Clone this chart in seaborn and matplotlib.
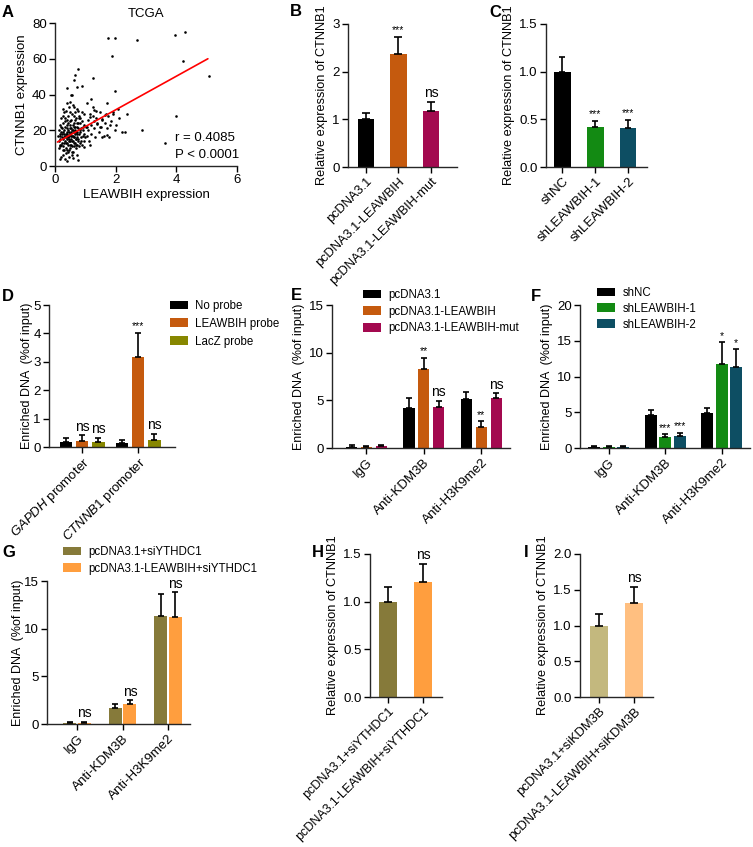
import matplotlib
matplotlib.use("Agg")
import matplotlib.pyplot as plt
import pandas as pd
import seaborn as sns
from matplotlib.patches import Patch
from matplotlib.ticker import FormatStrFormatter

# ---------------- data ----------------
# A: TCGA scatter (LEAWBIH vs CTNNB1)
tcga_x = [
    0.12, 0.15, 0.18, 0.20, 0.22, 0.25, 0.27, 0.30, 0.32, 0.34, 0.36, 0.38, 0.40, 0.42, 0.44, 0.46, 0.48, 0.50,
    0.52, 0.54, 0.56, 0.58, 0.60, 0.62, 0.64, 0.66, 0.68, 0.70, 0.72, 0.75, 0.78, 0.80, 0.83, 0.86, 0.90, 0.93, 0.97,
    0.14, 0.17, 0.19, 0.21, 0.23, 0.26, 0.28, 0.31, 0.33, 0.35, 0.37, 0.39, 0.41, 0.43, 0.45, 0.47, 0.49, 0.51,
    0.53, 0.55, 0.57, 0.59, 0.61, 0.63, 0.65, 0.67, 0.69, 0.71, 0.73, 0.76, 0.79, 0.82, 0.85, 0.88, 0.92, 0.95,
    0.10, 0.13, 0.16, 0.20, 0.24, 0.27, 0.29, 0.31, 0.34, 0.36, 0.38, 0.40, 0.42, 0.44, 0.46, 0.48, 0.50, 0.52,
    0.54, 0.56, 0.58, 0.60, 0.62, 0.64, 0.66, 0.68, 0.70, 0.72, 0.74, 0.77, 0.81, 0.84, 0.87, 0.91, 0.96,
    0.15, 0.18, 0.22, 0.25, 0.28, 0.30, 0.33, 0.35, 0.37, 0.39, 0.41, 0.43, 0.45, 0.47, 0.49, 0.51, 0.53, 0.55,
    0.57, 0.59, 0.61, 0.63, 0.65, 0.67, 0.69, 0.71, 0.74, 0.77, 0.80, 0.84, 0.89, 0.94,
    0.20, 0.32, 0.45, 0.55, 0.40, 0.60, 0.72, 0.25, 0.38, 0.50, 0.62, 0.75, 0.30, 0.55,
    1.02, 1.05, 1.08, 1.10, 1.13, 1.15, 1.18, 1.20, 1.24, 1.27, 1.30, 1.33, 1.36, 1.40, 1.44, 1.48, 1.52, 1.56,
    1.60, 1.64, 1.68, 1.72, 1.78, 1.85, 1.92, 2.00, 2.10, 2.20, 1.05, 1.15, 1.25, 1.35, 1.55, 1.75,
    1.74, 1.98, 2.70, 3.96, 4.27, 1.88, 4.23, 5.07, 0.75, 0.62, 0.66, 1.26, 1.98, 0.39, 0.89, 0.72, 0.54, 1.19,
    1.70, 2.09, 2.38, 1.91, 3.99, 2.86, 2.31, 1.98, 1.82, 1.71, 3.61, 1.49, 1.38, 1.27, 1.16, 1.65, 1.54, 1.07,
    0.99, 0.94, 0.77, 0.17,
]
tcga_y = [
    14, 18, 11, 22, 16, 9, 19, 13, 25, 17, 7, 21, 15, 28, 12, 19, 23, 10,
    17, 26, 14, 20, 8, 24, 16, 30, 12, 19, 22, 15, 27, 18, 13, 21, 25, 17, 29,
    20, 15, 27, 12, 18, 24, 6, 20, 14, 31, 10, 18, 23, 16, 33, 9, 21, 14,
    19, 29, 11, 17, 22, 13, 26, 18, 10, 24, 16, 21, 11, 24, 16, 30, 20, 14,
    17, 10, 23, 19, 13, 28, 16, 9, 22, 18, 13, 26, 20, 8, 15, 30, 18, 12,
    21, 17, 34, 14, 19, 11, 22, 27, 15, 18, 12, 24, 20, 27, 14, 22, 18,
    12, 17, 21, 15, 11, 18, 27, 13, 16, 9, 19, 24, 14, 17, 12, 25, 15, 20,
    8, 23, 16, 28, 13, 20, 15, 32, 19, 14, 28, 19, 12, 23,
    5, 4, 5, 6, 3, 4.5, 6, 32, 35, 36, 33, 31, 30, 40,
    22, 17, 26, 20, 14, 29, 23, 18, 33, 25, 21, 16, 27, 24, 19, 30, 22, 26,
    17, 24, 29, 21, 16, 25, 30, 23, 27, 19, 35, 12, 28, 31, 16, 28,
    71.6, 71.4, 70.5, 73.1, 74.8, 61.4, 58.9, 50.5, 54.5, 48.3, 50.7, 49.2, 42.0, 43.8, 44.8, 44.2, 39.9, 37.7,
    35.2, 32.1, 29.3, 28.9, 28.0, 20.0, 19.0, 20.3, 22.8, 17.2, 13.1, 21.8, 23.7, 31.1, 27.4, 28.3, 26.5, 21.8,
    16.2, 10.6, 3.5, 4.1,
]
fit_x = [0.08, 5.04]
fit_y = [13.4, 60.0]

# B
b_labels = ["pcDNA3.1", "pcDNA3.1-LEAWBIH", "pcDNA3.1-LEAWBIH-mut"]
b_mean = [1.0, 2.38, 1.18]
b_sd = [0.13, 0.34, 0.18]
b_sig = ["", "***", "ns"]

# C
c_labels = ["shNC", "shLEAWBIH-1", "shLEAWBIH-2"]
c_mean = [1.0, 0.42, 0.41]
c_sd = [0.15, 0.06, 0.08]
c_sig = ["", "***", "***"]

# D
d_groups = ["GAPDH promoter", "CTNNB1 promoter"]
d_series = ["No probe", "LEAWBIH probe", "LacZ probe"]
d_no_probe = [0.16, 0.14]
d_no_probe_sd = [0.16, 0.12]
d_leawbih = [0.20, 3.18]
d_leawbih_sd = [0.21, 0.85]
d_lacz = [0.17, 0.24]
d_lacz_sd = [0.16, 0.22]
d_sig = [["", ""], ["ns", "***"], ["ns", "ns"]]

# E
e_groups = ["IgG", "Anti-KDM3B", "Anti-H3K9me2"]
e_series = ["pcDNA3.1", "pcDNA3.1-LEAWBIH", "pcDNA3.1-LEAWBIH-mut"]
e_vec = [0.15, 4.2, 5.09]
e_vec_sd = [0.15, 1.06, 0.8]
e_leawbih = [0.12, 8.25, 2.18]
e_leawbih_sd = [0.1, 1.22, 0.6]
e_mut = [0.2, 4.32, 5.26]
e_mut_sd = [0.12, 0.63, 0.46]
e_sig = [["", "", ""], ["", "**", "**"], ["", "ns", "ns"]]

# F
f_groups = ["IgG", "Anti-KDM3B", "Anti-H3K9me2"]
f_series = ["shNC", "shLEAWBIH-1", "shLEAWBIH-2"]
f_shnc = [0.2, 4.63, 4.95]
f_shnc_sd = [0.1, 0.74, 0.65]
f_sh1 = [0.15, 1.54, 11.8]
f_sh1_sd = [0.08, 0.36, 3.05]
f_sh2 = [0.15, 1.73, 11.26]
f_sh2_sd = [0.1, 0.42, 2.54]
f_sig = [["", "", ""], ["", "***", "*"], ["", "***", "*"]]

# G
g_groups = ["IgG", "Anti-KDM3B", "Anti-H3K9me2"]
g_series = ["pcDNA3.1+siYTHDC1", "pcDNA3.1-LEAWBIH+siYTHDC1"]
g_vec = [0.15, 1.64, 11.3]
g_vec_sd = [0.08, 0.45, 2.37]
g_leawbih = [0.15, 2.06, 11.23]
g_leawbih_sd = [0.1, 0.42, 2.62]
g_sig = [["", "", ""], ["ns", "ns", "ns"]]

# H
h_labels = ["pcDNA3.1+siYTHDC1", "pcDNA3.1-LEAWBIH+siYTHDC1"]
h_mean = [1.0, 1.21]
h_sd = [0.15, 0.19]
h_sig = ["", "ns"]

# I
i_labels = ["pcDNA3.1+siKDM3B", "pcDNA3.1-LEAWBIH+siKDM3B"]
i_mean = [1.0, 1.31]
i_sd = [0.16, 0.23]
i_sig = ["", "ns"]

BLACK = "#000000"
ORANGE = "#C55A0E"
MAGENTA = "#A3094F"
GREEN = "#138A13"
TEAL = "#0D4E63"
OLIVE = "#878700"
OLIVE2 = "#867A3A"
ORANGE2 = "#FF9E3E"
TAN = "#C3B87E"
PEACH = "#FFBF80"

# ---------------- style ----------------
sns.set_style("ticks")
plt.rcParams["font.family"] = ["Liberation Sans", "DejaVu Sans"]
plt.rcParams["mathtext.fontset"] = "custom"
plt.rcParams["mathtext.rm"] = "Liberation Sans"
plt.rcParams["mathtext.it"] = "Liberation Sans:italic"
plt.rcParams["axes.linewidth"] = 1.0
plt.rcParams["xtick.major.width"] = 1.0
plt.rcParams["ytick.major.width"] = 1.0
plt.rcParams["xtick.major.size"] = 4
plt.rcParams["ytick.major.size"] = 4
plt.rcParams["text.color"] = "black"
plt.rcParams["axes.labelcolor"] = "black"
plt.rcParams["xtick.color"] = "black"
plt.rcParams["ytick.color"] = "black"

W, H = 753, 847
fig = plt.figure(figsize=(W / 100, H / 100), dpi=100)


def px_axes(l, t, r, b):
    return fig.add_axes([l / W, 1 - b / H, (r - l) / W, (b - t) / H])


def letter(x, y, s):
    fig.text(x / W, 1 - y / H, s, fontsize=12, fontweight="bold", va="top", ha="left")


def long_df(groups, series, values):
    rows = []
    for s, vals in zip(series, values):
        for g, v in zip(groups, vals):
            rows.append((g, s, v))
    return pd.DataFrame(rows, columns=["group", "series", "value"])


def add_errors(ax, errs, sigs, n_series, off, capsize=2.8):
    # errs / sigs are indexed [series][group]
    bars = []
    for cont in ax.containers:
        bars.extend(list(cont))
    bars.sort(key=lambda b: b.get_x())
    for k, bar in enumerate(bars):
        gi, si = k // n_series, k % n_series
        e = errs[si][gi]
        s = sigs[si][gi]
        x = bar.get_x() + bar.get_width() / 2
        top = bar.get_height()
        ax.errorbar(x, top, yerr=[[0], [e]], fmt="none", ecolor="black",
                    elinewidth=1.2, capsize=capsize, capthick=1.2, zorder=1)
        if s:
            fs = 10 if s == "ns" else 7.5
            ax.text(x, top + e + off, s, ha="center", va="bottom", fontsize=fs)


def style_ax(ax, ylim, yticks, xlim, ylabel, labsize, ticksize, fmt=None, labelpad=3):
    sns.despine(ax=ax)
    ax.set_ylim(*ylim)
    ax.set_yticks(yticks)
    ax.set_xlim(*xlim)
    ax.set_xlabel("")
    ax.set_ylabel(ylabel, fontsize=labsize, labelpad=labelpad)
    ax.tick_params(axis="y", labelsize=ticksize, pad=2)
    ax.tick_params(axis="x", labelsize=ticksize, pad=2)
    if fmt:
        ax.yaxis.set_major_formatter(FormatStrFormatter(fmt))


def rot_labels(ax, labels, size):
    ax.set_xticks(range(len(labels)))
    ax.set_xticklabels(labels, rotation=45, ha="right", rotation_mode="anchor", fontsize=size)


def single_bars(ax, labels, mean, sd, sig, colors, width, off, capsize=2.8):
    df = pd.DataFrame({"label": labels, "value": mean})
    sns.barplot(data=df, x="label", y="value", hue="label", palette=colors, saturation=1,
                width=width, errorbar=None, legend=False, linewidth=0, ax=ax)
    add_errors(ax, [sd], [sig], 1, off, capsize)


def grouped_bars(ax, groups, series, values, errs, sigs, colors, width, gap, off):
    df = long_df(groups, series, values)
    sns.barplot(data=df, x="group", y="value", hue="series", palette=colors, saturation=1,
                width=width, gap=gap, errorbar=None, legend=False, linewidth=0, ax=ax)
    add_errors(ax, errs, sigs, len(series), off, 2.5)


def legend(x, y, series, colors, ls):
    handles = [Patch(facecolor=c, edgecolor="none", label=s) for s, c in zip(series, colors)]
    fig.legend(handles=handles, loc="upper left", bbox_to_anchor=(x / W, 1 - y / H),
               frameon=False, fontsize=8.3, handlelength=1.6, handleheight=0.8,
               handletextpad=0.6, labelspacing=ls, borderpad=0, borderaxespad=0)


ENRICHED = "Enriched DNA  (%of input)"
RELATIVE = "Relative expression of CTNNB1"

# ---------------- A ----------------
ax = px_axes(55, 23, 237, 166)
sns.scatterplot(x=tcga_x, y=tcga_y, color="black", s=3.5, linewidth=0, ax=ax)
ax.plot(fit_x, fit_y, color="red", lw=1.2)
sns.despine(ax=ax)
ax.set_xlim(0, 6)
ax.set_ylim(0, 80)
ax.set_xticks([0, 2, 4, 6])
ax.set_yticks([0, 20, 40, 60, 80])
ax.tick_params(labelsize=9.5, pad=2)
ax.set_xlabel("LEAWBIH expression", fontsize=9.5, labelpad=2)
ax.set_ylabel("CTNNB1 expression", fontsize=9.5, labelpad=3)
ax.set_title("TCGA", fontsize=9.5, pad=4)
ax.text(3.95, 15.8, "r = 0.4085", fontsize=9.5, va="center")
ax.text(3.95, 6.3, "P < 0.0001", fontsize=9.5, va="center")
letter(2, 5, "A")

# ---------------- B ----------------
ax = px_axes(348, 24, 457, 167)
single_bars(ax, b_labels, b_mean, b_sd, b_sig, [BLACK, ORANGE, MAGENTA], 0.51, 0.05)
style_ax(ax, (0, 3), [0, 1, 2, 3], (-0.55, 2.8), RELATIVE, 9.2, 9.5)
rot_labels(ax, b_labels, 9.3)
letter(290, 4, "B")

# ---------------- C ----------------
ax = px_axes(546, 24, 647, 167)
single_bars(ax, c_labels, c_mean, c_sd, c_sig, [BLACK, GREEN, TEAL], 0.5, 0.02, 2.5)
style_ax(ax, (0, 1.5), [0, 0.5, 1.0, 1.5], (-0.5, 2.57), RELATIVE, 9.2, 9.5, "%.1f")
rot_labels(ax, c_labels, 9.5)
letter(489, 5, "C")

# ---------------- D ----------------
ax = px_axes(49, 305, 175, 447)
grouped_bars(ax, d_groups, d_series, [d_no_probe, d_leawbih, d_lacz],
             [d_no_probe_sd, d_leawbih_sd, d_lacz_sd], d_sig, [BLACK, ORANGE, OLIVE], 0.86, 0.2, 0.06)
style_ax(ax, (0, 5), [0, 1, 2, 3, 4, 5], (-0.59, 1.66), ENRICHED, 9.0, 9.5, labelpad=0)
rot_labels(ax, [r"$\it{GAPDH}$ promoter", r"$\it{CTNNB1}$ promoter"], 9.5)
legend(170, 300, d_series, [BLACK, ORANGE, OLIVE], 0.5)
letter(2, 289, "D")

# ---------------- E ----------------
ax = px_axes(332, 305, 510, 448)
grouped_bars(ax, e_groups, e_series, [e_vec, e_leawbih, e_mut],
             [e_vec_sd, e_leawbih_sd, e_mut_sd], e_sig, [BLACK, ORANGE, MAGENTA], 0.78, 0.25, 0.15)
style_ax(ax, (0, 15), [0, 5, 10, 15], (-0.6, 2.5), ENRICHED, 9.0, 9.5)
rot_labels(ax, e_groups, 9.5)
legend(363, 289, e_series, [BLACK, ORANGE, MAGENTA], 0.4)
letter(291, 288, "E")

# ---------------- F ----------------
ax = px_axes(580, 305, 750, 448)
grouped_bars(ax, f_groups, f_series, [f_shnc, f_sh1, f_sh2],
             [f_shnc_sd, f_sh1_sd, f_sh2_sd], f_sig, [BLACK, GREEN, TEAL], 0.77, 0.17, 0.15)
style_ax(ax, (0, 20), [0, 5, 10, 15, 20], (-0.51, 2.5), ENRICHED, 9.0, 9.5)
rot_labels(ax, f_groups, 9.5)
legend(597, 287, f_series, [BLACK, GREEN, TEAL], 0.33)
letter(531, 289, "F")

# ---------------- G ----------------
ax = px_axes(47, 581, 190, 724)
grouped_bars(ax, g_groups, g_series, [g_vec, g_leawbih],
             [g_vec_sd, g_leawbih_sd], g_sig, [OLIVE2, ORANGE2], 0.64, 0.1, 0.15)
style_ax(ax, (0, 15), [0, 5, 10, 15], (-0.66, 2.48), ENRICHED, 9.0, 9.5, labelpad=0)
rot_labels(ax, g_groups, 9.5)
legend(63, 546, g_series, [OLIVE2, ORANGE2], 0.4)
letter(2, 545, "G")

# ---------------- H ----------------
ax = px_axes(370, 554, 442, 697)
single_bars(ax, h_labels, h_mean, h_sd, h_sig, [OLIVE2, ORANGE2], 0.49, 0.02)
style_ax(ax, (0, 1.5), [0, 0.5, 1.0, 1.5], (-0.51, 1.54), RELATIVE, 9.2, 9.5, "%.1f")
rot_labels(ax, h_labels, 9)
letter(312, 545, "H")

# ---------------- I ----------------
ax = px_axes(580, 554, 653, 697)
single_bars(ax, i_labels, i_mean, i_sd, i_sig, [TAN, PEACH], 0.49, 0.03)
style_ax(ax, (0, 2.0), [0, 0.5, 1.0, 1.5, 2.0], (-0.54, 1.54), RELATIVE, 9.2, 9.5, "%.1f")
rot_labels(ax, i_labels, 9.3)
letter(524, 545, "I")

fig.savefig("out.png", dpi=100)
